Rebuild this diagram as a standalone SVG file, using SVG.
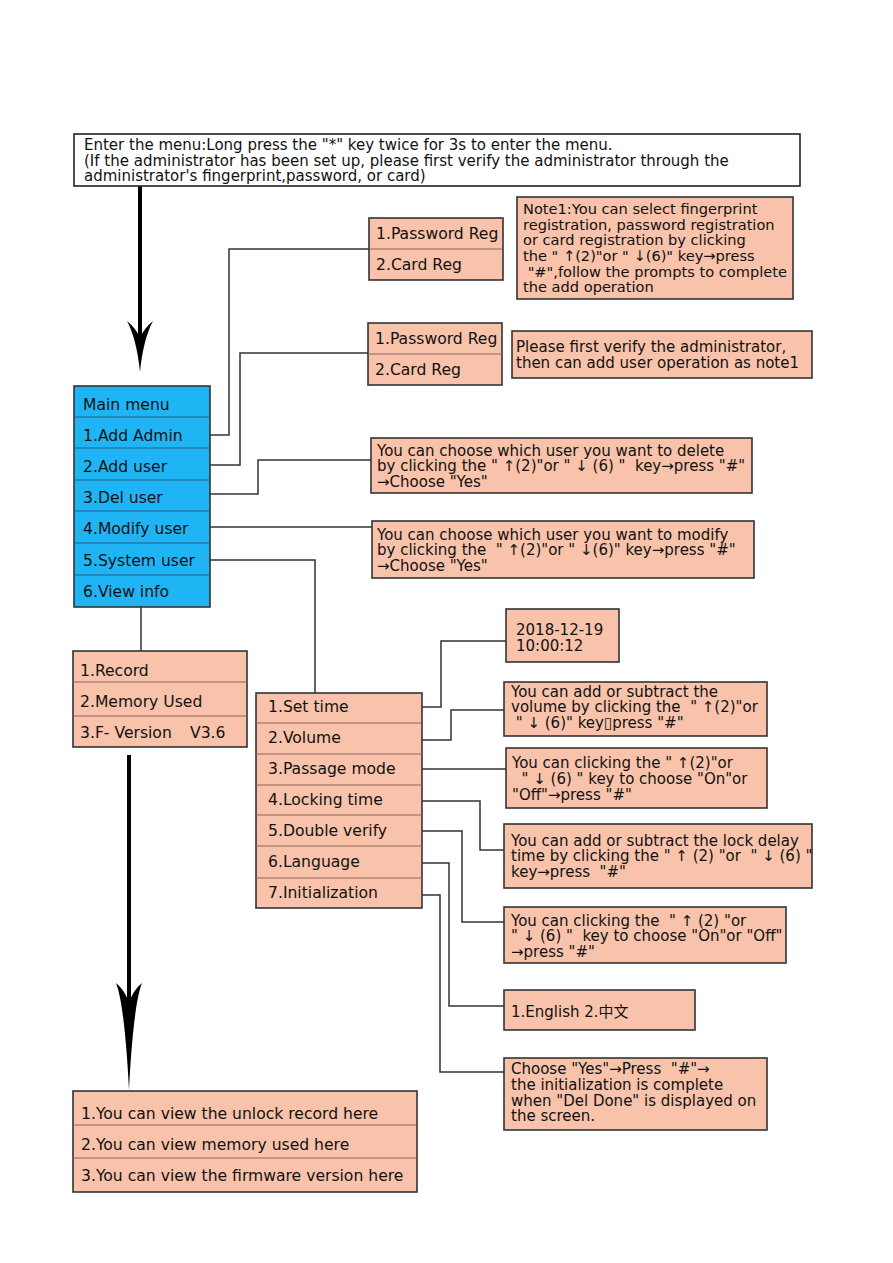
<svg xmlns="http://www.w3.org/2000/svg" width="893" height="1263" viewBox="0 0 893 1263">
<style>
text{font-family:"DejaVu Sans","Noto Sans","Noto Sans CJK SC",sans-serif;fill:#111;white-space:pre;}
.t{font-size:15px;}
.n{font-size:14.6px;}
.m{font-size:15.6px;}
.box{fill:#f8c3aa;stroke:#333;stroke-width:1.6;}
.blue{fill:#1fb5f4;stroke:#333;stroke-width:1.6;}
.div{stroke:#8a6456;stroke-width:1.2;fill:none;}
.bdiv{stroke:#2a5f80;stroke-width:1.2;fill:none;}
.w{fill:#fff;stroke:#222;stroke-width:1.6;}
.c{fill:none;stroke:#333;stroke-width:1.5;}
.arr{fill:none;stroke:#000;stroke-width:4;}
.head{fill:#000;stroke:none;}
</style>

<g id="connectors">
  <line class="arr" x1="140" y1="186" x2="140" y2="345"/>
  <path class="head" d="M140,372 C138,352 134,334 127,321 C133,326 137,331 140,338 C143,331 147,326 153,321 C146,334 142,352 140,372 Z"/>
  <line class="arr" x1="129" y1="755" x2="129" y2="1050"/>
  <path class="head" d="M129,1090 C127,1050 123,1000 116,983 C122,988 126,994 129,1003 C132,994 136,988 142,983 C135,1000 131,1050 129,1090 Z"/>
  <polyline class="c" points="210,435 229,435 229,249 369,249"/>
  <polyline class="c" points="210,465 240,465 240,353 369,353"/>
  <polyline class="c" points="210,494 258,494 258,460 371,460"/>
  <polyline class="c" points="210,527 372,527"/>
  <polyline class="c" points="210,560 315,560 315,693"/>
  <polyline class="c" points="141,607 141,651"/>
  <polyline class="c" points="422,707 441,707 441,641 506,641"/>
  <polyline class="c" points="422,740 451,740 451,710 504,710"/>
  <polyline class="c" points="422,769 506,769"/>
  <polyline class="c" points="422,801 480,801 480,850 504,850"/>
  <polyline class="c" points="422,831 462,831 462,922 504,922"/>
  <polyline class="c" points="422,863 449,863 449,1006 504,1006"/>
  <polyline class="c" points="422,895 440,895 440,1072 504,1072"/>
</g>

<g id="enter-menu">
  <rect class="w" x="74" y="134" width="726" height="52"/>
  <text class="t" x="84" y="150">Enter the menu:Long press the "*" key twice for 3s to enter the menu.</text>
  <text class="t" x="84" y="166">(If the administrator has been set up, please first verify the administrator through the</text>
  <text class="t" x="84" y="181">administrator's fingerprint,password, or card)</text>
</g>

<g id="admin-reg">
  <rect class="box" x="369" y="218" width="134" height="62"/>
  <line class="div" x1="369" y1="249" x2="503" y2="249"/>
  <text class="m" x="376" y="239">1.Password Reg</text>
  <text class="m" x="376" y="270">2.Card Reg</text>
</g>

<g id="note1">
  <rect class="box" x="517" y="197" width="276" height="102"/>
  <text class="n" x="523" y="214">Note1:You can select fingerprint</text>
  <text class="n" x="523" y="230">registration, password registration</text>
  <text class="n" x="523" y="245">or card registration by clicking</text>
  <text class="n" x="523" y="261">the " ↑(2)"or " ↓(6)" key→press</text>
  <text class="n" x="523" y="277"> "#",follow the prompts to complete</text>
  <text class="n" x="523" y="292">the add operation</text>
</g>

<g id="user-reg">
  <rect class="box" x="368" y="323" width="134" height="62"/>
  <line class="div" x1="368" y1="354" x2="502" y2="354"/>
  <text class="m" x="375" y="344">1.Password Reg</text>
  <text class="m" x="375" y="375">2.Card Reg</text>
</g>

<g id="note2">
  <rect class="box" x="512" y="331" width="300" height="47"/>
  <text class="t" x="516" y="352">Please first verify the administrator,</text>
  <text class="t" x="516" y="368">then can add user operation as note1</text>
</g>

<g id="main-menu">
  <rect class="blue" x="74" y="386" width="136" height="221"/>
  <line class="bdiv" x1="74" y1="417" x2="210" y2="417"/>
  <line class="bdiv" x1="74" y1="448" x2="210" y2="448"/>
  <line class="bdiv" x1="74" y1="480" x2="210" y2="480"/>
  <line class="bdiv" x1="74" y1="511" x2="210" y2="511"/>
  <line class="bdiv" x1="74" y1="543" x2="210" y2="543"/>
  <line class="bdiv" x1="74" y1="575" x2="210" y2="575"/>
  <text class="m" x="83" y="410">Main menu</text>
  <text class="m" x="83" y="441">1.Add Admin</text>
  <text class="m" x="83" y="472">2.Add user</text>
  <text class="m" x="83" y="503">3.Del user</text>
  <text class="m" x="83" y="534">4.Modify user</text>
  <text class="m" x="83" y="566">5.System user</text>
  <text class="m" x="83" y="597">6.View info</text>
</g>

<g id="del-note">
  <rect class="box" x="371" y="438" width="381" height="55"/>
  <text class="t" x="377" y="456">You can choose which user you want to delete</text>
  <text class="t" x="377" y="471">by clicking the " ↑(2)"or " ↓ (6) "  key→press "#"</text>
  <text class="t" x="377" y="487">→Choose "Yes"</text>
</g>

<g id="modify-note">
  <rect class="box" x="372" y="521" width="382" height="57"/>
  <text class="t" x="377" y="540">You can choose which user you want to modify</text>
  <text class="t" x="377" y="555">by clicking the  " ↑(2)"or " ↓(6)" key→press "#"</text>
  <text class="t" x="377" y="571">→Choose "Yes"</text>
</g>

<g id="view-info">
  <rect class="box" x="73" y="651" width="174" height="96"/>
  <line class="div" x1="73" y1="682" x2="247" y2="682"/>
  <line class="div" x1="73" y1="716" x2="247" y2="716"/>
  <text class="m" x="80" y="676">1.Record</text>
  <text class="m" x="80" y="707">2.Memory Used</text>
  <text class="m" x="80" y="738">3.F- Version</text>
  <text class="m" x="190" y="738">V3.6</text>
</g>

<g id="system-menu">
  <rect class="box" x="256" y="693" width="166" height="215"/>
  <line class="div" x1="256" y1="723" x2="422" y2="723"/>
  <line class="div" x1="256" y1="754" x2="422" y2="754"/>
  <line class="div" x1="256" y1="785" x2="422" y2="785"/>
  <line class="div" x1="256" y1="815" x2="422" y2="815"/>
  <line class="div" x1="256" y1="846" x2="422" y2="846"/>
  <line class="div" x1="256" y1="878" x2="422" y2="878"/>
  <text class="m" x="268" y="712">1.Set time</text>
  <text class="m" x="268" y="743">2.Volume</text>
  <text class="m" x="268" y="774">3.Passage mode</text>
  <text class="m" x="268" y="805">4.Locking time</text>
  <text class="m" x="268" y="836">5.Double verify</text>
  <text class="m" x="268" y="867">6.Language</text>
  <text class="m" x="268" y="898">7.Initialization</text>
</g>

<g id="date-box">
  <rect class="box" x="506" y="609" width="113" height="53"/>
  <text class="t" x="516" y="635">2018-12-19</text>
  <text class="t" x="516" y="651">10:00:12</text>
</g>

<g id="volume-note">
  <rect class="box" x="504" y="682" width="263" height="54"/>
  <text class="t" x="511" y="697">You can add or subtract the</text>
  <text class="t" x="511" y="712">volume by clicking the  " ↑(2)"or</text>
  <text class="t" x="511" y="728"> " ↓ (6)" key▯press "#"</text>
</g>

<g id="passage-note">
  <rect class="box" x="506" y="748" width="261" height="60"/>
  <text class="t" x="512" y="768">You can clicking the " ↑(2)"or</text>
  <text class="t" x="512" y="784">  " ↓ (6) " key to choose "On"or</text>
  <text class="t" x="512" y="800">"Off"→press "#"</text>
</g>

<g id="lock-note">
  <rect class="box" x="504" y="824" width="308" height="64"/>
  <text class="t" x="511" y="846">You can add or subtract the lock delay</text>
  <text class="t" x="511" y="861">time by clicking the " ↑ (2) "or  " ↓ (6) "</text>
  <text class="t" x="511" y="877">key→press  "#"</text>
</g>

<g id="double-note">
  <rect class="box" x="504" y="907" width="282" height="56"/>
  <text class="t" x="511" y="926">You can clicking the  " ↑ (2) "or</text>
  <text class="t" x="511" y="941">" ↓ (6) "  key to choose "On"or "Off"</text>
  <text class="t" x="511" y="957">→press "#"</text>
</g>

<g id="language-box">
  <rect class="box" x="504" y="990" width="191" height="40"/>
  <text class="t" x="511" y="1017">1.English 2.中文</text>
</g>

<g id="init-note">
  <rect class="box" x="504" y="1058" width="263" height="72"/>
  <text class="t" x="511" y="1074">Choose "Yes"→Press  "#"→</text>
  <text class="t" x="511" y="1090">the initialization is complete</text>
  <text class="t" x="511" y="1106">when "Del Done" is displayed on</text>
  <text class="t" x="511" y="1121">the screen.</text>
</g>

<g id="info-desc">
  <rect class="box" x="73" y="1091" width="344" height="101"/>
  <line class="div" x1="73" y1="1125" x2="417" y2="1125"/>
  <line class="div" x1="73" y1="1158" x2="417" y2="1158"/>
  <text class="m" x="81" y="1119">1.You can view the unlock record here</text>
  <text class="m" x="81" y="1150">2.You can view memory used here</text>
  <text class="m" x="81" y="1181">3.You can view the firmware version here</text>
</g>
</svg>
